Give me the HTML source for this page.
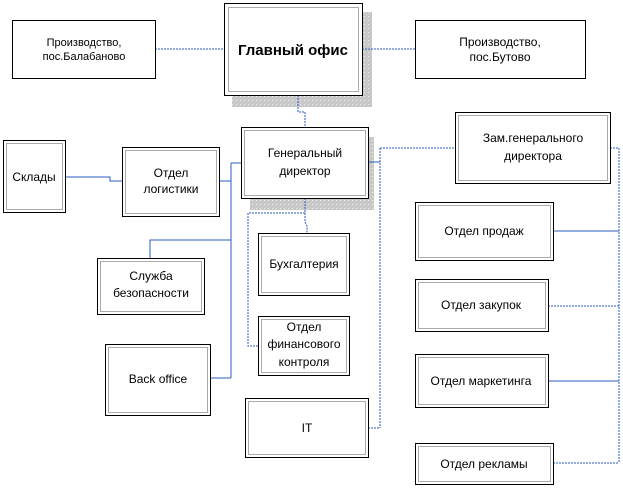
<!DOCTYPE html>
<html><head><meta charset="utf-8"><style>
body{margin:0;background:#fff;}
svg{display:block;font-family:"Liberation Sans","DejaVu Sans",sans-serif;}
.b{fill:#fff;stroke:#000;stroke-width:1}
.i{fill:none;stroke:#555;stroke-width:1;stroke-dasharray:1 1}
.s{stroke:#2a5cc4;stroke-width:1;fill:none}
.d{stroke:#2a5cc4;stroke-width:1;fill:none;stroke-dasharray:2 1}
text{font-size:12px;fill:#000;text-anchor:middle}
</style></head><body>
<svg width="623" height="488" viewBox="0 0 623 488">
<defs><pattern id="sh" width="4" height="4" patternUnits="userSpaceOnUse"><rect width="4" height="4" fill="#c8c8c8"/><rect width="1" height="1" fill="#eee"/></pattern></defs>
<!-- shadows -->
<rect x="232" y="12" width="140" height="95" fill="url(#sh)"/>
<rect x="250" y="137" width="124" height="73" fill="url(#sh)"/>
<!-- connectors -->
<path class="d" d="M155 49H224M362 49H415"/>
<path class="d" d="M298 95V112H305V127"/>
<path class="s" d="M65 177H110V181H122"/>
<path class="s" d="M219 181H231M231 163V378M231 163H241M150 258V240H231M210 378H231"/>
<path class="d" d="M305 198V213M305 213H248V346H258M305 213V222L307 226V233"/>
<path class="s" d="M368 162H380"/>
<path class="d" d="M380 148V428M380 148H455M368 428H380"/>
<path class="d" d="M610 148H619V463"/>
<path class="s" d="M553 231H619M548 381H619"/>
<path class="d" d="M548 306H619M553 463H619"/>
<!-- boxes -->
<g>
<rect class="b" x="12.5" y="20.5" width="143" height="58"/>
<rect class="b" x="224.5" y="3.5" width="138" height="92" stroke-width="2"/><rect class="i" x="228.5" y="7.5" width="130" height="84"/>
<rect class="b" x="415.5" y="20.5" width="170" height="58"/>
<rect class="b" x="3.5" y="140.5" width="62" height="72"/><rect class="i" x="6.5" y="143.5" width="56" height="66"/>
<rect class="b" x="122.5" y="147.5" width="97" height="69"/><rect class="i" x="125.5" y="150.5" width="91" height="63"/>
<rect class="b" x="241.5" y="127.5" width="127" height="71"/><rect class="i" x="244.5" y="130.5" width="121" height="65"/>
<rect class="b" x="455.5" y="112.5" width="155" height="71"/><rect class="i" x="458.5" y="115.5" width="149" height="65"/>
<rect class="b" x="258.5" y="233.5" width="91" height="62"/><rect class="i" x="261.5" y="236.5" width="85" height="56"/>
<rect class="b" x="97.5" y="258.5" width="107" height="56"/><rect class="i" x="100.5" y="261.5" width="101" height="50"/>
<rect class="b" x="258.5" y="316.5" width="91" height="59"/><rect class="i" x="261.5" y="319.5" width="85" height="53"/>
<rect class="b" x="105.5" y="344.5" width="105" height="71"/><rect class="i" x="108.5" y="347.5" width="99" height="65"/>
<rect class="b" x="245.5" y="398.5" width="123" height="59"/><rect class="i" x="248.5" y="401.5" width="117" height="53"/>
<rect class="b" x="415.5" y="202.5" width="138" height="58"/><rect class="i" x="418.5" y="205.5" width="132" height="52"/>
<rect class="b" x="415.5" y="279.5" width="133" height="52"/><rect class="i" x="418.5" y="282.5" width="127" height="46"/>
<rect class="b" x="415.5" y="354.5" width="133" height="53"/><rect class="i" x="418.5" y="357.5" width="127" height="47"/>
<rect class="b" x="415.5" y="443.5" width="138" height="41"/><rect class="i" x="418.5" y="446.5" width="132" height="35"/>
</g>
<!-- labels -->
<text x="84" y="46" style="font-size:11px">Производство,</text>
<text x="84" y="60" style="font-size:11px">пос.Балабаново</text>
<text x="293" y="55" style="font-size:15px;font-weight:bold">Главный офис</text>
<text x="500" y="46">Производство,</text>
<text x="500" y="61">пос.Бутово</text>
<text x="34" y="181">Склады</text>
<text x="171" y="177">Отдел</text>
<text x="171" y="193">логистики</text>
<text x="305" y="157">Генеральный</text>
<text x="305" y="175">директор</text>
<text x="533" y="142">Зам.генерального</text>
<text x="533" y="160">директора</text>
<text x="304" y="268">Бухгалтерия</text>
<text x="151" y="280">Служба</text>
<text x="151" y="297">безопасности</text>
<text x="304" y="331">Отдел</text>
<text x="304" y="348">финансового</text>
<text x="304" y="366">контроля</text>
<text x="158" y="383">Back office</text>
<text x="307" y="432">IT</text>
<text x="484" y="235">Отдел продаж</text>
<text x="481" y="309">Отдел закупок</text>
<text x="481" y="385">Отдел маркетинга</text>
<text x="484" y="468">Отдел рекламы</text>
</svg>
</body></html>
